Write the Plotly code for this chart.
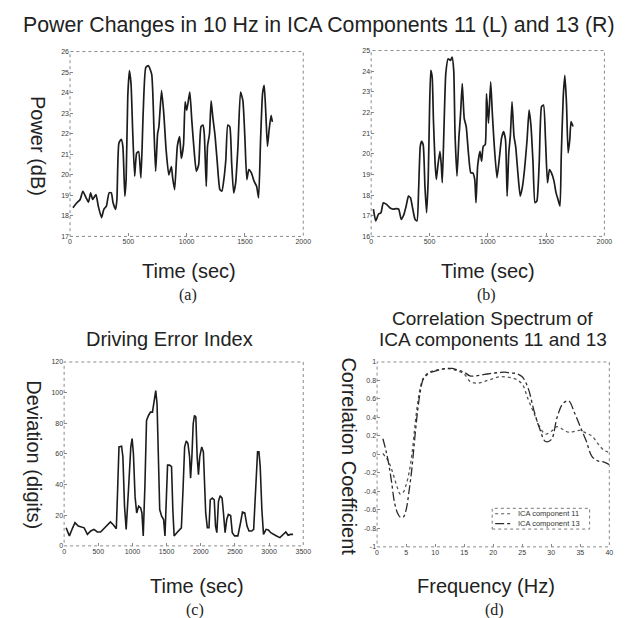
import plotly.graph_objects as go

# ---------------- data ----------------
time_a = [25, 59, 87, 110, 138, 158, 177, 194, 222, 242, 270, 290, 312, 335, 354, 369, 391, 402,
          419, 439, 453, 470, 481, 495, 509, 523, 537, 554, 571, 588, 608, 627, 650, 672, 700,
          720, 734, 751, 762, 785, 804, 824, 847, 869, 880, 897, 920, 940, 954, 973, 987, 1001,
          1027, 1044, 1066, 1083, 1103, 1123, 1140, 1151, 1168, 1179, 1196, 1210, 1224, 1243,
          1263, 1285, 1302, 1319, 1336, 1353, 1370, 1386, 1403, 1420, 1440, 1462, 1482, 1499,
          1516, 1533, 1555, 1578, 1600, 1617, 1634, 1651, 1665, 1679, 1693, 1707, 1724, 1735]
power_a = [18.4, 18.64, 18.8, 19.2, 18.88, 18.67, 19.12, 18.8, 19.04, 18.48, 17.92, 18.32, 18.48,
           19.12, 19.12, 18.64, 18.32, 18.8, 21.54, 21.73, 21.38, 18.96, 19.77, 23.79, 25.07,
           24.43, 22.18, 19.93, 21.05, 21.13, 19.85, 22.98, 25.23, 25.31, 24.9, 22.18, 20.17,
           22.0, 22.34, 24.1, 22.98, 21.21, 20.0, 20.4, 19.85, 19.28, 21.38, 21.86, 20.8, 21.46,
           23.55, 23.14, 24.02, 22.66, 21.05, 20.17, 20.49, 22.34, 22.42, 22.0, 19.44, 21.38,
           22.0, 23.6, 22.82, 21.94, 20.57, 19.28, 19.2, 19.77, 20.73, 22.42, 22.34, 20.57,
           19.12, 19.6, 21.38, 24.02, 23.62, 21.86, 19.77, 20.25, 20.09, 19.69, 19.44, 18.88,
           21.7, 23.95, 24.35, 22.98, 21.38, 22.18, 22.9, 22.58]

time_b = [19, 39, 62, 84, 104, 132, 160, 188, 216, 236, 258, 281, 300, 320, 337, 357, 376, 393,
          407, 421, 432, 446, 461, 475, 489, 500, 511, 523, 534, 548, 559, 573, 590, 601, 610,
          624, 640, 660, 680, 694, 708, 719, 736, 753, 767, 781, 798, 815, 834, 854, 871, 888,
          899, 913, 933, 947, 961, 978, 989, 1006, 1025, 1039, 1056, 1079, 1098, 1118, 1135,
          1152, 1166, 1180, 1194, 1208, 1225, 1239, 1258, 1278, 1298, 1315, 1337, 1354, 1371,
          1388, 1405, 1421, 1441, 1461, 1478, 1495, 1512, 1529, 1546, 1568, 1585, 1602, 1619,
          1630, 1647, 1661, 1675, 1689, 1703, 1714, 1731]
power_b = [17.32, 16.75, 17.07, 17.15, 17.63, 17.55, 17.39, 17.32, 17.35, 17.32, 16.83, 17.07,
           17.47, 17.95, 17.87, 17.32, 16.83, 16.75, 18.28, 20.36, 20.6, 20.44, 18.44, 17.15,
           18.76, 21.96, 24.04, 23.72, 21.64, 19.56, 18.76, 19.48, 20.12, 19.48, 18.6, 21.16,
           23.88, 24.6, 24.52, 24.68, 24.04, 21.0, 18.92, 20.84, 21.96, 23.4, 21.72, 21.32,
           20.04, 19.08, 19.08, 18.76, 17.63, 19.4, 20.12, 19.64, 20.36, 20.44, 22.92, 21.48,
           23.48, 21.96, 20.36, 18.84, 19.72, 20.76, 21.08, 20.68, 17.95, 20.04, 20.92, 22.52,
           20.84, 20.36, 19.08, 17.95, 18.44, 19.24, 20.68, 22.12, 21.32, 19.56, 17.63, 17.71,
           19.56, 22.28, 22.36, 20.68, 18.6, 19.24, 19.08, 18.68, 18.12, 17.79, 17.47, 19.88,
           22.76, 23.8, 22.44, 20.04, 20.68, 21.56, 21.32]

time_c = [29, 77, 125, 159, 207, 255, 293, 341, 389, 437, 485, 533, 591, 630, 678, 716, 764, 783,
          803, 841, 860, 884, 908, 942, 976, 995, 1014, 1038, 1062, 1091, 1120, 1139, 1158, 1182,
          1206, 1235, 1264, 1293, 1322, 1341, 1360, 1384, 1399, 1427, 1456, 1476, 1495, 1514,
          1543, 1572, 1591, 1610, 1649, 1687, 1716, 1740, 1764, 1788, 1812, 1836, 1851, 1870,
          1889, 1908, 1928, 1947, 1966, 1985, 2014, 2038, 2052, 2072, 2096, 2120, 2139, 2168,
          2197, 2216, 2235, 2259, 2283, 2312, 2332, 2356, 2380, 2404, 2437, 2461, 2495, 2543,
          2582, 2610, 2644, 2677, 2706, 2745, 2774, 2803, 2831, 2851, 2870, 2894, 2918, 2956,
          2990, 3024, 3062, 3110, 3158, 3206, 3245, 3278, 3312, 3351]
dev_c = [11.8, 6.5, 11.8, 15.1, 12.9, 12.3, 11.8, 7.5, 9.7, 10.8, 9.1, 9.1, 11.8, 14.0, 15.7,
         14.0, 11.2, 36.6, 64.6, 65.0, 58.2, 25.9, 10.8, 36.6, 64.6, 70.0, 60.3, 32.3, 21.5,
         25.9, 24.8, 21.5, 6.5, 38.8, 81.9, 85.1, 87.3, 87.3, 97.0, 101.3, 92.7, 51.7, 23.7,
         19.4, 17.2, 6.5, 36.6, 52.7, 52.7, 51.7, 23.7, 6.5, 8.6, 10.8, 11.8, 36.6, 64.6, 68.5,
         66.8, 58.2, 44.2, 58.2, 79.7, 85.1, 84.0, 58.2, 46.4, 58.2, 64.6, 61.4, 40.9, 21.5,
         11.8, 11.8, 30.1, 31.2, 30.1, 12.9, 8.6, 29.1, 32.7, 31.2, 21.5, 8.6, 17.2, 20.5, 19.8,
         8.6, 6.5, 6.5, 15.1, 22.0, 21.5, 12.9, 9.7, 9.7, 10.8, 36.6, 61.4, 61.4, 51.7, 23.7,
         7.5, 10.8, 10.4, 8.6, 7.5, 6.5, 5.4, 7.5, 9.1, 6.9, 7.5, 7.5]

freq_d = [1, 1.5, 2, 2.5, 3, 3.5, 4, 4.5, 5, 5.5, 6, 6.5, 7, 7.5, 8, 9, 10, 11, 12, 13, 14, 15,
          16, 17, 18, 19, 20, 21, 22, 23, 24, 25, 26, 27, 28, 29, 30, 31, 32, 33, 34, 35, 36,
          37, 38, 39, 40]
corr_11 = [0.01, -0.03, -0.08, -0.16, -0.26, -0.36, -0.43, -0.41, -0.33, -0.2, 0.0, 0.3, 0.56,
           0.74, 0.83, 0.89, 0.91, 0.92, 0.93, 0.92, 0.9, 0.87, 0.79, 0.77, 0.78, 0.8, 0.82,
           0.84, 0.84, 0.83, 0.81, 0.76, 0.6, 0.45, 0.3, 0.22, 0.25, 0.3, 0.27, 0.24, 0.25, 0.26,
           0.23, 0.2, 0.12, 0.05, 0.02]
corr_13 = [0.17, 0.05, -0.1, -0.3, -0.52, -0.63, -0.68, -0.68, -0.6, -0.4, -0.15, 0.18, 0.48,
           0.7, 0.82, 0.88, 0.9, 0.92, 0.93, 0.93, 0.91, 0.89, 0.85, 0.85, 0.86, 0.87, 0.88,
           0.885, 0.89, 0.88, 0.875, 0.84, 0.72, 0.48, 0.28, 0.14, 0.16, 0.4, 0.55, 0.58, 0.45,
           0.3, 0.15, -0.02, -0.07, -0.08, -0.11]
legend_names = ["ICA component 11", "ICA component 13"]

ticks_time2000 = [0, 500, 1000, 1500, 2000]
ticks_time3500 = [0, 500, 1000, 1500, 2000, 2500, 3000, 3500]
ticks_power_a = [17, 18, 19, 20, 21, 22, 23, 24, 25, 26]
ticks_power_b = [16, 17, 18, 19, 20, 21, 22, 23, 24, 25]
ticks_dev = [0, 20, 40, 60, 80, 100, 120]
ticks_freq = [0, 5, 10, 15, 20, 25, 30, 35, 40]
ticks_corr = [-1, -0.8, -0.6, -0.4, -0.2, 0, 0.2, 0.4, 0.6, 0.8, 1]
ticks_corr_text = ["-1", "-0.8", "-0.6", "-0.4", "-0.2", "0", "0.2", "0.4", "0.6", "0.8", "1"]

# ---------------- layout helpers ----------------
W, H = 629, 618
def fx(p):
    return p / W
def fy(p):
    return 1 - p / H

SANS = "Liberation Sans, Arial, sans-serif"
SERIF = "Liberation Serif, Times New Roman, serif"
LINE = "#1c1c1c"
DASH11 = "dot"
DASH13 = "dashdot"
COL11 = "#555555"
COL13 = "#2a2a2a"

fig = go.Figure()
fig.add_trace(go.Scatter(x=time_a, y=power_a, mode="lines",
                         line=dict(color=LINE, width=1.7, shape="spline", smoothing=0.5),
                         xaxis="x", yaxis="y", showlegend=False))
fig.add_trace(go.Scatter(x=time_b, y=power_b, mode="lines",
                         line=dict(color=LINE, width=1.7, shape="spline", smoothing=0.5),
                         xaxis="x2", yaxis="y2", showlegend=False))
fig.add_trace(go.Scatter(x=time_c, y=dev_c, mode="lines", line=dict(color=LINE, width=1.6),
                         xaxis="x3", yaxis="y3", showlegend=False))
fig.add_trace(go.Scatter(x=freq_d, y=corr_11, mode="lines", name=legend_names[0],
                         line=dict(color=COL11, width=1.3, dash=DASH11, shape="spline"),
                         xaxis="x4", yaxis="y4", showlegend=False))
fig.add_trace(go.Scatter(x=freq_d, y=corr_13, mode="lines", name=legend_names[1],
                         line=dict(color=COL13, width=1.3, dash=DASH13, shape="spline"),
                         xaxis="x4", yaxis="y4", showlegend=False))

tickfont = dict(family=SANS, size=7, color="#3a3a3a")
def xax(dom, rng, vals, anchor):
    return dict(domain=dom, range=rng, tickvals=vals, ticktext=[str(v) for v in vals],
                anchor=anchor, ticks="inside", ticklen=3, tickcolor="#888888",
                showgrid=False, zeroline=False, showline=False, tickfont=tickfont)
def yax(dom, rng, vals, anchor, text=None):
    return dict(domain=dom, range=rng, tickvals=vals,
                ticktext=text if text else [str(v) for v in vals],
                anchor=anchor, ticks="inside", ticklen=3, tickcolor="#888888",
                showgrid=False, zeroline=False, showline=False, tickfont=tickfont)

dom_a_x = [fx(61), fx(298)]; dom_a_y = [fy(227), fy(40)]
dom_b_x = [fx(367), fx(604)]; dom_b_y = [fy(227), fy(39)]
dom_c_x = [fx(55), fx(298)]; dom_c_y = [fy(540), fy(354)]
dom_d_x = [fx(373), fx(609)]; dom_d_y = [fy(541), fy(354)]

fig.update_layout(
    width=W, height=H, margin=dict(l=0, r=0, t=0, b=0),
    paper_bgcolor="white", plot_bgcolor="white",
    xaxis=xax(dom_a_x, [0, 2000], ticks_time2000, "y"),
    yaxis=yax(dom_a_y, [17, 26], ticks_power_a, "x"),
    xaxis2=xax(dom_b_x, [0, 2000], ticks_time2000, "y2"),
    yaxis2=yax(dom_b_y, [16, 25], ticks_power_b, "x2"),
    xaxis3=xax(dom_c_x, [0, 3500], ticks_time3500, "y3"),
    yaxis3=yax(dom_c_y, [0, 120], ticks_dev, "x3"),
    xaxis4=xax(dom_d_x, [0, 40], ticks_freq, "y4"),
    yaxis4=yax(dom_d_y, [-1, 1], ticks_corr, "x4", ticks_corr_text),
    showlegend=False,
)

# dotted frames
for xr, yr in [("x", "y"), ("x2", "y2"), ("x3", "y3"), ("x4", "y4")]:
    fig.add_shape(type="rect", xref=f"{xr} domain", yref=f"{yr} domain",
                  x0=0, x1=1, y0=0, y1=1, line=dict(color="#8a8a8a", width=1, dash="dot"))

def note(text, x, y, size=20, family=SANS, angle=0, color="#222222", xanchor="center"):
    fig.add_annotation(text=text, x=fx(x), y=fy(y), xref="paper", yref="paper",
                       showarrow=False, textangle=angle, xanchor=xanchor, yanchor="middle",
                       font=dict(family=family, size=size, color=color))

# compact legend box for panel (d)
fig.add_shape(type="rect", xref="paper", yref="paper", x0=fx(490), x1=fx(589),
              y0=fy(523), y1=fy(502), line=dict(color="#777777", width=1, dash="dot"),
              fillcolor="white")
for i, (dash, col) in enumerate([(DASH11, COL11), (DASH13, COL13)]):
    yy = 507.5 + i * 10
    fig.add_shape(type="line", xref="paper", yref="paper", x0=fx(493), x1=fx(511),
                  y0=fy(yy), y1=fy(yy), line=dict(color=col, width=1.2, dash=dash))
    note(legend_names[i], 514, yy, size=7.5, color="#333333", xanchor="left")

note("Power Changes in 10 Hz in ICA Components 11 (L) and 13 (R)", 314, 13, size=21.3)
note("Power (dB)", 28, 135, angle=90)
note("Time (sec)", 182, 262)
note("(a)", 181, 286, size=16, family=SERIF)
note("Time (sec)", 486, 262)
note("(b)", 484, 286, size=16, family=SERIF)

note("Driving Error Index", 162, 331)
note("Deviation (digits)", 24, 448, angle=90)
note("Time (sec)", 190, 581)
note("(c)", 188, 605, size=16, family=SERIF)

note("Correlation Spectrum of", 490, 310, size=19)
note("ICA components 11 and 13", 491, 331, size=19)
note("Correlation Coefficient", 345, 449, angle=90)
note("Frequency (Hz)", 484, 581)
note("(d)", 492, 605, size=16, family=SERIF)

fig.write_html("out.html")
